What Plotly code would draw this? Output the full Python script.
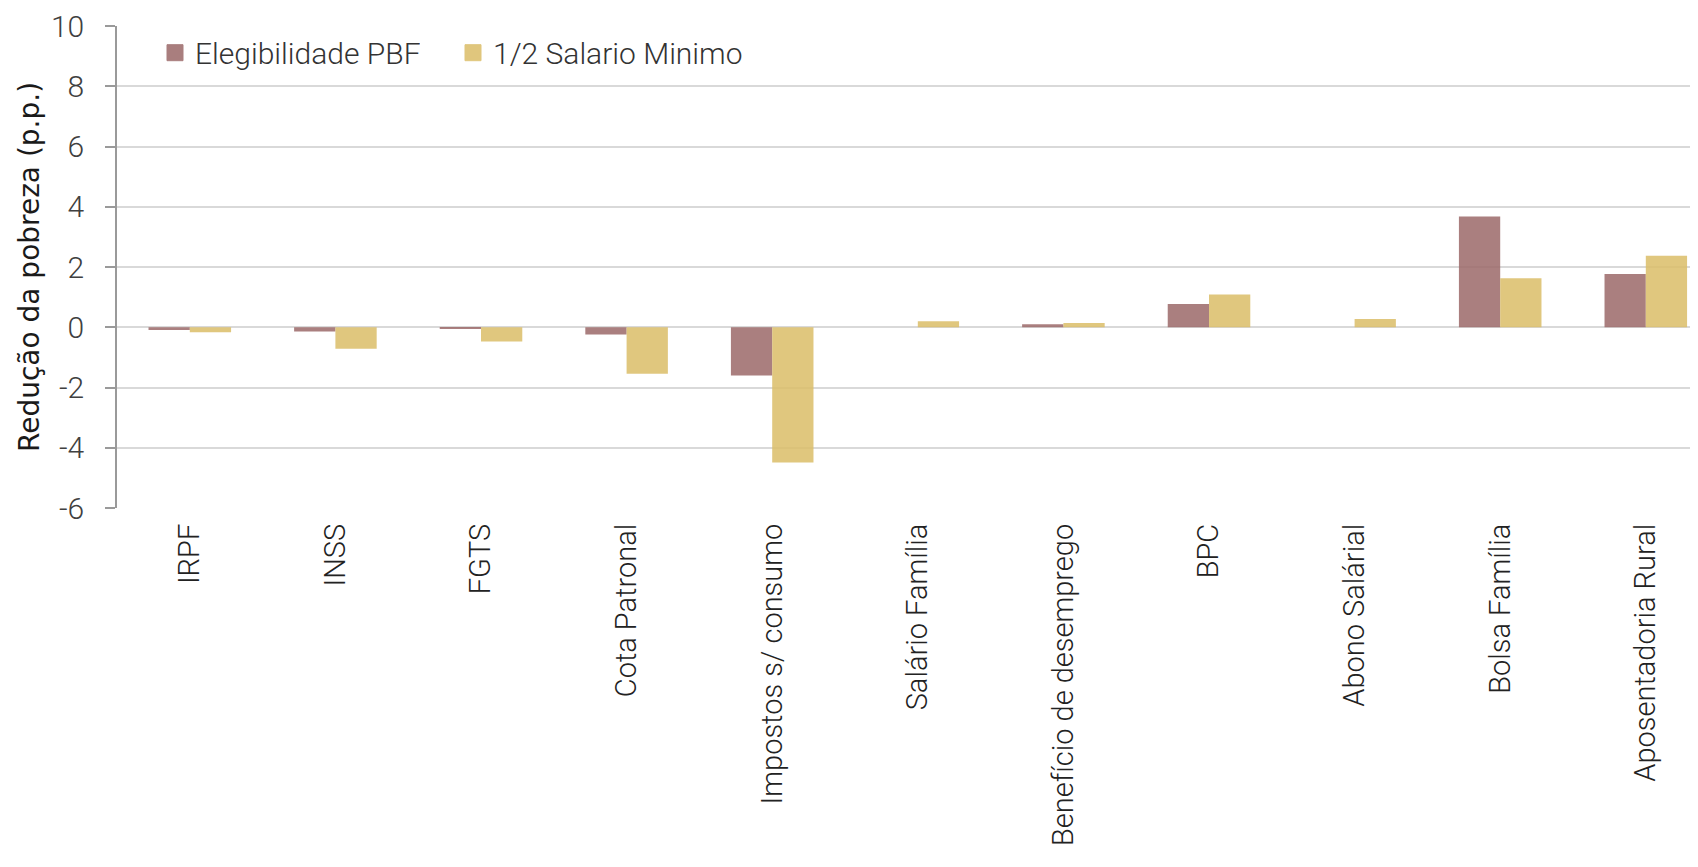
import plotly.graph_objects as go

categories = ["IRPF", "INSS", "FGTS", "Cota Patronal", "Impostos s/ consumo",
              "Salário Família", "Benefício de desemprego", "BPC", "Abono Salárial",
              "Bolsa Família", "Aposentadoria Rural"]
elegibilidade_pbf = [-0.09, -0.14, -0.04, -0.24, -1.60, None, 0.10, 0.77, None, 3.68, 1.77]
meio_salario = [-0.17, -0.71, -0.47, -1.54, -4.49, 0.20, 0.14, 1.09, 0.27, 1.63, 2.37]
y_ticks = [-6, -4, -2, 0, 2, 4, 6, 8, 10]

MAROON = "rgb(155,104,104)"
GOLD = "rgb(219,189,103)"

# page body adds an 8px offset, margins compensate for it
W, H = 1698, 867
L, R, T, B = 109, 0, 18, 367
PLOT_W = W - L - R

fig = go.Figure()
fig.add_trace(go.Bar(x=categories, y=elegibilidade_pbf, name="Elegibilidade PBF",
                     showlegend=False,
                     marker=dict(color=MAROON, opacity=0.85, line=dict(width=0))))
fig.add_trace(go.Bar(x=categories, y=meio_salario, name="1/2 Salario Minimo",
                     showlegend=False,
                     marker=dict(color=GOLD, opacity=0.85, line=dict(width=0))))
# legend entries
fig.add_trace(go.Scatter(x=[None], y=[None], mode="markers", name="Elegibilidade PBF",
                         legend="legend", hoverinfo="skip",
                         marker=dict(symbol="square", size=16, color=MAROON, opacity=0.85,
                                     line=dict(width=1, color=MAROON))))
fig.add_trace(go.Scatter(x=[None], y=[None], mode="markers", name="1/2 Salario Minimo",
                         legend="legend2", hoverinfo="skip",
                         marker=dict(symbol="square", size=16, color=GOLD, opacity=0.85,
                                     line=dict(width=1, color=GOLD))))

leg_font = dict(family="Roboto", size=30, color="#333333", weight=300)
leg_y = 1 + 2.3 / (H - T - B)

fig.update_layout(
    width=W, height=H,
    margin=dict(l=L, r=R, t=T, b=B, pad=0, autoexpand=False),
    paper_bgcolor="white", plot_bgcolor="white",
    barmode="group", bargap=0.433, bargroupgap=0,
    font=dict(family="Roboto", size=28, color="#333333", weight=300),
    legend=dict(orientation="h", x=0, xanchor="left", y=leg_y, yanchor="top",
                bgcolor="white", bordercolor="white", borderwidth=3,
                indentation=35, font=leg_font, itemsizing="trace"),
    legend2=dict(orientation="h", x=(420 - 117) / PLOT_W, xanchor="left",
                 y=leg_y, yanchor="top",
                 bgcolor="white", bordercolor="white", borderwidth=3,
                 indentation=30, entrywidth=277, entrywidthmode="pixels",
                 font=leg_font, itemsizing="trace"),
    showlegend=True,
    annotations=[dict(text="Redução da pobreza (p.p.)", textangle=-90,
                      xref="paper", yref="paper", x=0, y=0.5,
                      xanchor="center", yanchor="middle", xshift=29 - 117,
                      showarrow=False,
                      font=dict(family="DejaVu Sans", size=28, color="#1a1a1a",
                                weight=400))],
)

fig.update_xaxes(
    type="category", range=[-0.5, -0.5 + PLOT_W / 145.6], automargin=False,
    tickangle=-90, showgrid=False, showline=False, zeroline=False,
    ticks="", tickfont=dict(family="Roboto", size=29, color="#222222", weight=300),
    ticklabelstandoff=9,
)
fig.update_yaxes(
    range=[-6, 10], tickvals=y_ticks, ticktext=[str(v) for v in y_ticks],
    automargin=False,
    showgrid=True, gridcolor="#d9d9d9", gridwidth=2,
    zeroline=True, zerolinecolor="#d9d9d9", zerolinewidth=2,
    showline=True, linecolor="#9a9a9a", linewidth=1.5,
    ticks="outside", ticklen=10, tickcolor="#9a9a9a", tickwidth=1.5,
    tickfont=dict(family="Roboto", size=30, color="#404040", weight=300),
    ticklabelstandoff=15,
)

fig.write_html("out.html")
